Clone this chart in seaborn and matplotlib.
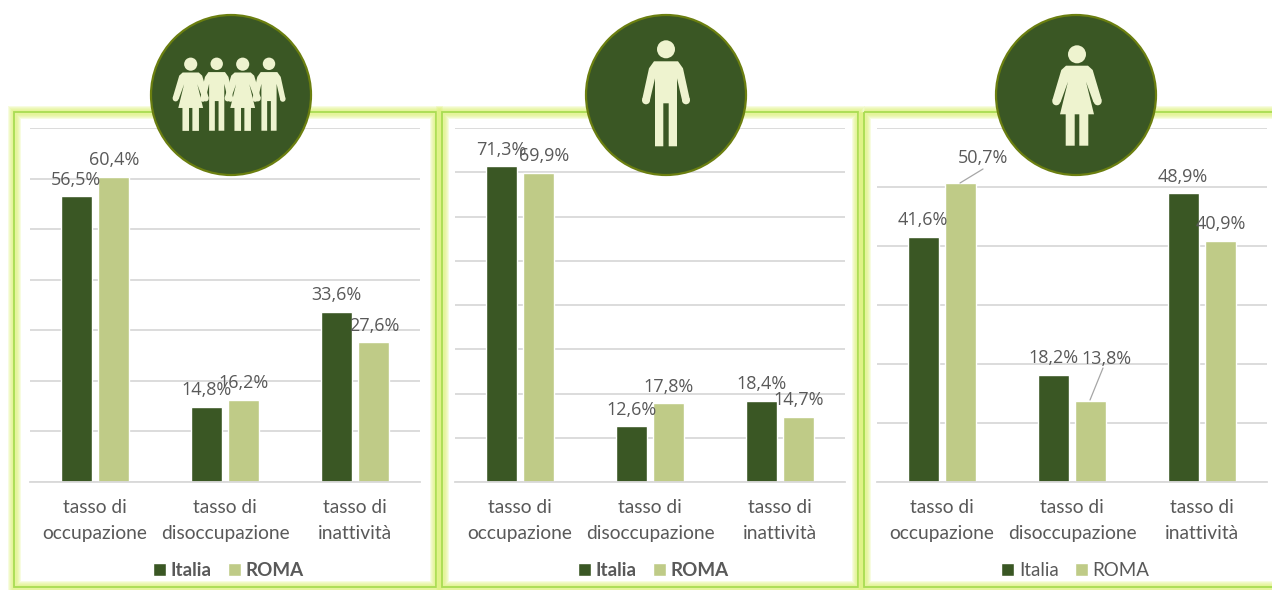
import matplotlib
matplotlib.use("Agg")
import matplotlib.pyplot as plt
import pandas as pd
import seaborn as sns
from matplotlib.patches import Circle, Polygon, Rectangle

sns.set_style("white")
plt.rcParams['font.family'] = ['Open Sans', 'DejaVu Sans']

W, H = 1272, 590
DARK = '#3a5724'
LIGHT = '#bfcb87'
ICON = '#eef3cf'
TEXT = '#595959'
GRID = '#d9d9d9'

categories = ['tasso di\noccupazione', 'tasso di\ndisoccupazione', 'tasso di\ninattività']
italia_tot = [56.5, 14.8, 33.6]
roma_tot = [60.4, 16.2, 27.6]
italia_uomini = [71.3, 12.6, 18.4]
roma_uomini = [69.9, 17.8, 14.7]
italia_donne = [41.6, 18.2, 48.9]
roma_donne = [50.7, 13.8, 40.9]

# half outlines of the pictograms, x from the centre line, y from top of head
MAN = [(0, 21), (12, 21), (17, 28), (23.8, 59), (16.3, 61), (11, 38), (11, 106),
       (2.7, 106), (2.7, 63), (0, 63)]
WOMAN = [(0, 20.4), (11, 20.4), (15.7, 24.7), (24.7, 55), (16.5, 57), (9, 36.4), (17, 69),
         (11.3, 69), (11.3, 100.4), (2.3, 100.4), (2.3, 69), (0, 69)]


def panel(left, italia, roma, ymax, bold, moved):
    ax = fig.add_axes([left / W, 1 - 482 / H, 390 / W, 354 / H])
    ax.patch.set_alpha(0)
    df = pd.DataFrame({
        'cat': categories * 2,
        'serie': ['Italia'] * 3 + ['ROMA'] * 3,
        'val': italia + roma,
    })
    sns.barplot(ax=ax, data=df, x='cat', y='val', hue='serie', palette=[DARK, LIGHT],
                width=0.58, gap=0.18, saturation=1, legend=True)
    ax.set_ylim(0, ymax)
    ax.set_xlim(-0.5, 2.5)
    ax.set_yticks(range(0, ymax + 1, 10))
    ax.yaxis.grid(True, color=GRID, lw=1.3)
    ax.set_axisbelow(True)
    ax.set_xlabel('')
    ax.set_ylabel('')
    ax.tick_params(axis='y', left=False, labelleft=False)
    ax.tick_params(axis='x', bottom=False, pad=9, labelsize=13.8, labelcolor=TEXT)
    for lab in ax.get_xticklabels():
        lab.set_family(['Lato', 'DejaVu Sans'])
        lab.set_linespacing(1.6)
    sns.despine(ax=ax, left=True, right=True, top=True)
    ax.spines['bottom'].set_color(GRID)
    ax.spines['bottom'].set_linewidth(1.3)

    # labels sit above the bars, a few were dragged aside in the original
    for i, cont in enumerate(ax.containers[:2]):
        for j, bar in enumerate(cont):
            val = bar.get_height()
            dx, dy = moved.get((i, j), (0, 0))
            xc = bar.get_x() + bar.get_width() / 2
            ax.annotate(f'{val:.1f}%'.replace('.', ','), (xc, val),
                        xytext=(dx, 12 + dy), textcoords='offset points',
                        ha='center', va='center', fontsize=13, color=TEXT,
                        annotation_clip=False)

    sns.move_legend(ax, 'center', bbox_to_anchor=(0.509, -0.25), ncol=2, frameon=False,
                    title=None, handlelength=0.7, handleheight=0.7, handletextpad=0.25,
                    columnspacing=0.85, labelcolor=TEXT,
                    prop={'family': 'Lato', 'size': 13.5, 'weight': 'bold' if bold else 'normal'})
    return ax


def frame(bg, x0, x1):
    y0, y1 = 112, 587
    for lw in (13, 11, 9, 7, 5):
        bg.add_patch(Rectangle((x0, y0), x1 - x0, y1 - y0, fill=False, ec='#dcf276',
                               lw=lw * 0.72, alpha=0.22))
    bg.add_patch(Rectangle((x0, y0), x1 - x0, y1 - y0, fill=False, ec='#a9dc52', lw=1.3))


def person(ov, cx, top, s, dress):
    half = WOMAN if dress else MAN
    ov.add_patch(Circle((cx, top + 9 * s), 9 * s, color=ICON, lw=0))
    right = [(cx + x * s, top + y * s) for x, y in half]
    left = [(cx - x * s, top + y * s) for x, y in half[::-1]]
    ov.add_patch(Polygon(right + left, closed=True, color=ICON, lw=0))
    # rounded hands
    hx, hy = (20.7, 56) if dress else (20, 60)
    for side in (-1, 1):
        ov.add_patch(Circle((cx + side * hx * s, top + hy * s), 4 * s, color=ICON, lw=0))


fig = plt.figure(figsize=(12.72, 5.9), dpi=100, facecolor='white')

bg = fig.add_axes([0, 0, 1, 1], zorder=-1)
bg.set_xlim(0, W)
bg.set_ylim(H, 0)
bg.axis('off')
frame(bg, 14, 436)
frame(bg, 442, 858)
frame(bg, 864, 1290)

panel(30, italia_tot, roma_tot, 70, True, {})
panel(455, italia_uomini, roma_uomini, 80, True, {(1, 0): (4, 0)})
panel(877, italia_donne, roma_donne, 60, False, {(1, 0): (16, 6), (1, 1): (11, 18)})

ov = fig.add_axes([0, 0, 1, 1], zorder=5)
ov.set_xlim(0, W)
ov.set_ylim(H, 0)
ov.axis('off')
ov.patch.set_alpha(0)
for cx in (231, 666, 1076):
    ov.add_patch(Circle((cx, 95), 80, fc=DARK, ec='#6b7f10', lw=1.6))
person(ov, 190.7, 57.6, 0.73, True)
person(ov, 216.7, 57.6, 0.69, False)
person(ov, 242.7, 57.6, 0.73, True)
person(ov, 269, 57.6, 0.69, False)
person(ov, 666, 40.3, 1, False)
person(ov, 1077, 45.3, 1, True)

# leader lines of the moved labels
ov.plot([960, 983], [183, 169], color='#a6a6a6', lw=0.9)
ov.plot([1090, 1103], [400, 368], color='#a6a6a6', lw=0.9)

fig.savefig('out.png', dpi=100)
